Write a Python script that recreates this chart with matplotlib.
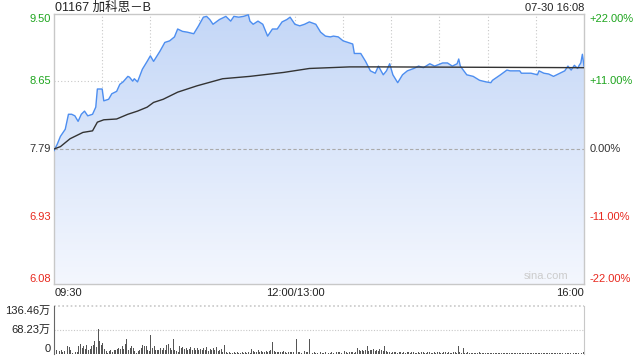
import numpy as np
import matplotlib
matplotlib.use("Agg")
import matplotlib.pyplot as plt
from matplotlib.colors import LinearSegmentedColormap

plt.rcParams['font.family'] = ['Liberation Sans', 'Noto Sans CJK SC', 'DejaVu Sans']

# Chart data (minutes since 09:30 on the trading clock, lunch break removed)
title = "01167 加科思－B"
stamp = "07-30 16:08"
prev_close = 7.79
price_ticks = [9.50, 8.65, 7.79, 6.93, 6.08]
pct_ticks = ["+22.00%", "+11.00%", "0.00%", "-11.00%", "-22.00%"]
time_labels = ["09:30", "12:00/13:00", "16:00"]
vol_ticks = ["136.46万", "68.23万", "0"]
vol_max = 136.46

price_t = [0, 2, 4, 7, 9, 11, 13, 15, 17, 19, 21, 24, 26, 27, 30, 31, 34, 36, 39, 41,
           43, 46, 47, 49, 50, 52, 55, 58, 60, 62, 66, 69, 72, 75, 77, 80, 83, 87, 90, 93,
           95, 97, 99, 103, 107, 110, 112, 115, 118, 121, 122, 124, 127, 130, 133, 136, 139, 142, 145, 147,
           150, 153, 156, 159, 163, 166, 169, 172, 174, 177, 180, 183, 186, 187, 191, 194, 197, 200, 202, 205,
           207, 209, 211, 214, 217, 220, 224, 227, 230, 234, 237, 242, 245, 248, 251, 252, 253, 257, 261, 265,
           269, 272, 273, 278, 282, 284, 290, 291, 297, 301, 302, 305, 308, 311, 315, 318, 320, 322, 324, 326,
           327, 328, 329, 330]
price = [7.77, 7.85, 7.95, 8.04, 8.23, 8.23, 8.21, 8.14, 8.23, 8.27, 8.21, 8.23, 8.32, 8.55, 8.55, 8.40, 8.42, 8.49, 8.52, 8.61,
         8.64, 8.71, 8.70, 8.65, 8.68, 8.64, 8.80, 8.90, 8.97, 8.90, 9.03, 9.14, 9.16, 9.21, 9.31, 9.28, 9.27, 9.25, 9.35, 9.46,
         9.47, 9.43, 9.37, 9.43, 9.47, 9.41, 9.47, 9.46, 9.47, 9.49, 9.41, 9.37, 9.41, 9.37, 9.22, 9.31, 9.31, 9.40, 9.43, 9.46,
         9.37, 9.35, 9.37, 9.40, 9.37, 9.27, 9.22, 9.21, 9.22, 9.21, 9.16, 9.14, 9.12, 9.00, 9.00, 8.90, 8.78, 8.75, 8.84, 8.73,
         8.78, 8.87, 8.73, 8.63, 8.73, 8.78, 8.81, 8.84, 8.82, 8.87, 8.84, 8.88, 8.88, 8.84, 8.87, 8.93, 8.84, 8.73, 8.71, 8.66,
         8.64, 8.63, 8.66, 8.73, 8.79, 8.78, 8.78, 8.75, 8.75, 8.73, 8.78, 8.75, 8.74, 8.71, 8.75, 8.78, 8.84, 8.79, 8.85, 8.81,
         8.85, 8.88, 8.99, 8.84]

avg_t = [0, 4, 10, 18, 24, 27, 31, 39, 46, 52, 58, 62, 68, 77, 89, 105, 122, 143, 159, 184, 203, 330]
avg_price = [7.79, 7.82, 7.92, 8.00, 8.02, 8.13, 8.16, 8.17, 8.23, 8.27, 8.32, 8.38, 8.42, 8.51, 8.59, 8.68,
             8.71, 8.76, 8.81, 8.83, 8.83, 8.82]

# volume per minute, in 万 shares
volume = (
    [14, 12, 8, 9, 12, 5, 8, 22, 24, 19, 10, 3, 8, 6, 5, 22, 28, 17, 24, 15,
     26, 12, 15, 22, 26, 38, 20, 70, 38, 25, 31, 15, 8, 3, 8, 10, 5, 10, 12, 13,
     17, 13, 22, 15, 28, 43, 12, 17, 22, 17, 8, 3, 8, 12, 17, 26, 22, 24, 10, 8,
     55, 17, 22, 10, 12, 10, 17, 12, 17, 10, 26, 28, 17, 10, 44, 12, 8, 5, 24, 17,
     19, 14, 17, 12, 14, 19, 10, 17, 12, 17, 12]
    + [15, 10, 17, 12, 19, 8, 14, 10, 17, 12, 20, 8, 12, 15, 6, 25]
    + [5, 4, 5, 3, 4, 6, 4, 5, 3, 4, 5, 4, 6, 3, 5, 4, 15]
    + [8, 6, 7, 10, 6, 8, 5, 7, 9, 6, 8, 12, 33]
    + [8, 6, 5, 7, 5, 6, 8, 5, 4, 6, 7, 5, 6, 8, 43]
    + [6, 5, 4, 6, 8, 5, 7, 43]
    + [4, 3, 5, 4, 3, 4, 5, 3, 4, 6, 4, 3, 4, 5, 3, 12]
    + [6, 5, 7, 4, 6, 8, 5, 4, 6, 5, 7, 4, 6, 17]
    + [10, 8, 12, 9, 10, 22]
    + [8, 12, 10, 15, 9, 11, 8, 13, 10, 9, 24]
    + [8, 5, 6, 4, 7, 5, 6, 4, 5]
    + [5, 4, 6, 3, 5, 7, 4, 5, 6, 4, 3, 5, 4, 6, 5, 3, 4, 5, 6, 4,
       3, 5, 4, 6, 5, 4, 3, 5, 6, 4, 5, 3, 4, 6, 5, 4, 23]
    + [5, 4, 16]
    + [4, 3, 5, 3, 4, 2, 3, 4, 3, 5, 2, 3, 4, 3, 2, 4, 3, 3, 2, 4,
       3, 2, 3, 4, 2, 3, 3, 2, 4, 3, 2, 3, 2, 4, 3, 2, 3, 3, 2, 4,
       3, 2, 3, 2, 3, 4, 2, 3, 2, 3, 3, 2, 4, 2, 3, 2, 3, 3, 2, 3,
       4, 2, 3, 2, 3, 2, 3, 4, 2, 3, 2, 3, 2, 4, 5]
)

W, H = 640, 360
green = '#1ea51e'
red = '#e8281e'
grid_c = '#c8c8c8'


def fx(x):
    return x / W


def fy(y):
    return 1 - y / H


fig = plt.figure(figsize=(6.4, 3.6), dpi=100)

# main price panel
ax = fig.add_axes([fx(54), fy(284), fx(530), 270 / H])
ax.set_xlim(0, 330)
ax.set_ylim(price_ticks[-1], price_ticks[0])

# gradient fill under the price line
poly = ax.fill_between(price_t, price, price_ticks[-1], color='none', lw=0)
cmap = LinearSegmentedColormap.from_list('fill', ['#f4f7fe', '#c4d7f7'])
grad = np.linspace(0, 1, 256).reshape(-1, 1)
img = ax.imshow(grad, aspect='auto', cmap=cmap, origin='lower',
                extent=[0, 330, price_ticks[-1], price_ticks[0]], zorder=1)
img.set_clip_path(poly.get_paths()[0], transform=ax.transData)

# grid
for m in range(30, 330, 30):
    ax.axvline(m, color=grid_c, lw=0.8, ls=(0, (1, 2)), zorder=0.5)
for p in [price_ticks[1], price_ticks[3]]:
    ax.axhline(p, color=grid_c, lw=0.8, ls=(0, (1, 2)), zorder=0.5)
ax.axhline(prev_close, color='#aaaaaa', lw=0.8, ls=(0, (3, 2)), zorder=2)

ax.plot(price_t, price, color='#4d8ef0', lw=1, zorder=3)
ax.plot(avg_t, avg_price, color='#333333', lw=1, zorder=4)

ax.set_xticks([])
ax.set_yticks([])
for s in ax.spines.values():
    s.set_color(grid_c)
    s.set_linewidth(1)

# price labels left, percent labels right
colors = [green, green, '#333333', red, red]
for i, (p, pct) in enumerate(zip(price_ticks, pct_ticks)):
    va = 'top' if i == 0 else ('bottom' if i == 4 else 'center')
    ax.text(-0.006, p, "%.2f" % p, transform=ax.get_yaxis_transform(), ha='right', va=va,
            fontsize=8, color=colors[i])
    ax.text(1.011, p, pct, transform=ax.get_yaxis_transform(), ha='left', va=va,
            fontsize=8, color=colors[i])

ax.text(0.97, 0.01, "sina.com", transform=ax.transAxes, ha='right', va='bottom',
        fontsize=8, color='#cccccc')

fig.text(fx(55), fy(8), title, ha='left', va='center', fontsize=9, color='#222222')
fig.text(fx(584), fy(8), stamp, ha='right', va='center', fontsize=8, color='#222222')

fig.text(fx(55), fy(293), time_labels[0], ha='left', va='center', fontsize=8, color='#222222')
fig.text(fx(295), fy(293), time_labels[1], ha='center', va='center', fontsize=8, color='#222222')
fig.text(fx(584), fy(293), time_labels[2], ha='right', va='center', fontsize=8, color='#222222')

# volume panel
vax = fig.add_axes([fx(54), fy(354), fx(530), 48 / H])
vax.set_xlim(-0.5, 330.5)
vax.set_ylim(0, vol_max)
vax.bar(np.arange(len(volume)), volume, width=0.6, color='#555555', lw=0)
vax.axhline(vol_max / 2, color=grid_c, lw=0.8, ls=(0, (1, 1.5)))
vax.axhline(vol_max, color=grid_c, lw=1.2, ls=(0, (1, 1.5)), clip_on=False)
vax.set_xticks([])
vax.set_yticks([])
for k in ['top', 'bottom']:
    vax.spines[k].set_visible(False)
vax.spines['left'].set_color('#666666')
vax.spines['right'].set_color(grid_c)

vax.text(-0.006, vol_max, vol_ticks[0], transform=vax.get_yaxis_transform(), ha='right', va='top',
         fontsize=8, color='#222222')
vax.text(-0.006, vol_max / 2, vol_ticks[1], transform=vax.get_yaxis_transform(), ha='right',
         va='center', fontsize=8, color='#222222')
vax.text(-0.006, 0, vol_ticks[2], transform=vax.get_yaxis_transform(), ha='right', va='bottom',
         fontsize=8, color='#222222')

fig.savefig('out.png', dpi=100)
